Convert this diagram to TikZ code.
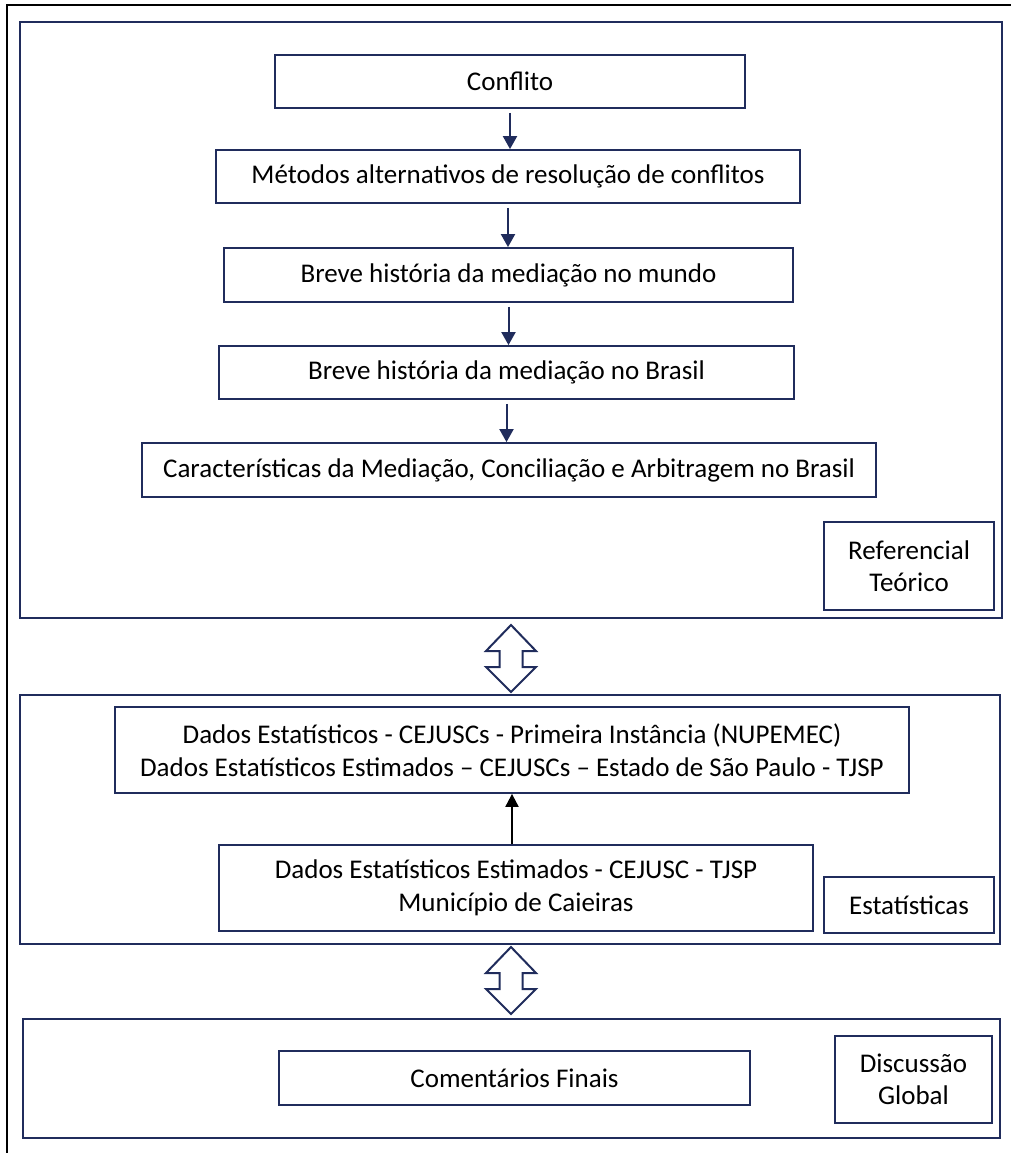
\documentclass[tikz,border=0pt]{standalone}
\usepackage{fontspec}
\setmainfont{Carlito}
\usetikzlibrary{arrows.meta}
\definecolor{navy}{RGB}{32,44,92}

\begin{document}
\begin{tikzpicture}[x=1pt,y=-1pt,
  panel/.style={draw=navy, line width=2.5pt, inner sep=0pt},
  stage/.style={draw=navy, line width=1.8pt, fill=white, inner sep=0pt,
    align=center, font=\fontsize{27}{32.5}\selectfont},
  flow/.style={draw=navy, line width=2pt, -{Triangle[length=13pt,width=14pt]}},
  feed/.style={draw=black, line width=2pt, -{Triangle[length=13pt,width=13pt]}},
  link/.style={draw=navy, line width=2pt, fill=white, line join=miter},
  ]
  \useasboundingbox (0,0) rectangle (1011,1153);

  % Outer frame (top and left only)
  \draw[black, line width=2pt] (7,1153) -- (7,5) -- (1011,5);

  % Panels
  \node[panel, minimum width=982pt, minimum height=596pt] (refp) at (511,320) {};
  \node[panel, minimum width=980pt, minimum height=249pt] (estp) at (510,819.5) {};
  \node[panel, minimum width=977pt, minimum height=119pt] (discp) at (511.5,1078.5) {};

  % Referencial teorico
  \node[stage, minimum width=470pt, minimum height=53pt] (conf) at (510,81.5) {Conflito};
  \node[stage, minimum width=584pt, minimum height=53pt] (metodos) at (508,176.5)
    {Métodos alternativos de resolução de conflitos};
  \node[stage, minimum width=569pt, minimum height=54pt] (mundo) at (508.5,275)
    {Breve história da mediação no mundo};
  \node[stage, minimum width=575pt, minimum height=53pt] (brasil) at (506.5,372.5)
    {Breve história da mediação no Brasil};
  \node[stage, minimum width=734pt, minimum height=54pt] (carac) at (509,470)
    {Características da Mediação, Conciliação e Arbitragem no Brasil};
  \node[stage, minimum width=170pt, minimum height=88pt] (reft) at (909,566)
    {Referencial\\Teórico};

  \draw[flow, shorten <=4pt] (conf.south) -- (conf.south |- metodos.north);
  \draw[flow, shorten <=4pt] (metodos.south) -- (metodos.south |- mundo.north);
  \draw[flow, shorten <=4pt] (mundo.south) -- (mundo.south |- brasil.north);
  \draw[flow, shorten <=4pt] (brasil.south) -- (brasil.south |- carac.north);

  % Estatisticas
  \node[stage, minimum width=794pt, minimum height=86pt] (dados) at (512,750)
    {Dados Estatísticos - CEJUSCs - Primeira Instância (NUPEMEC)\\
     Dados Estatísticos Estimados – CEJUSCs – Estado de São Paulo - TJSP};
  \node[stage, minimum width=594pt, minimum height=86pt] (caieiras) at (516,888)
    {Dados Estatísticos Estimados - CEJUSC - TJSP\\Município de Caieiras};
  \node[stage, minimum width=170pt, minimum height=56pt] (estat) at (909,905)
    {Estatísticas};

  \draw[feed] (caieiras.north -| dados.south) -- (dados.south);

  % Discussao global
  \node[stage, minimum width=471pt, minimum height=54pt] (coment) at (514.5,1078)
    {Comentários Finais};
  \node[stage, minimum width=157pt, minimum height=87pt] (disc) at (913.5,1079.5)
    {Discussão\\Global};

  % Double arrows between panels
  \foreach \y in {625,947}{
    \draw[link] (511,\y) -- ++(25,26) -- ++(-13.5,0) -- ++(0,16) -- ++(13.5,0)
      -- (511,\y+67) -- ++(-25,-25) -- ++(13.5,0) -- ++(0,-16) -- ++(-13.5,0) -- cycle;
  }

\end{tikzpicture}
\end{document}
